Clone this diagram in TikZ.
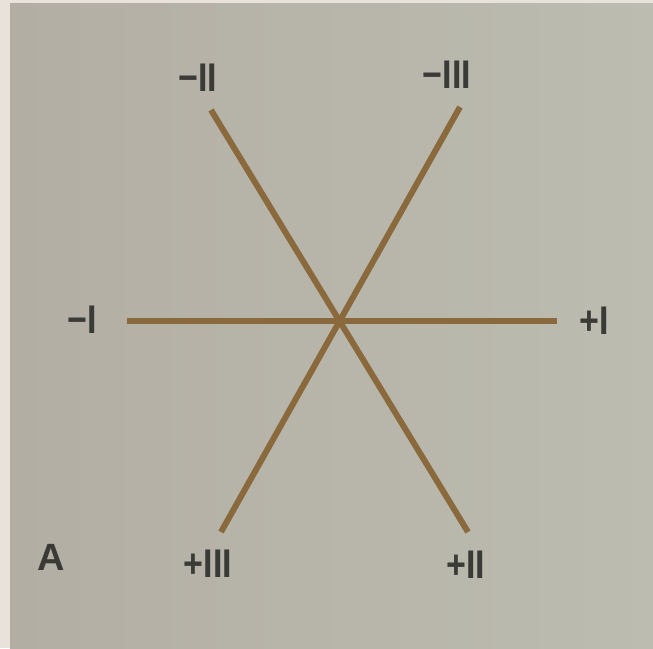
\documentclass[tikz,border=0pt]{standalone}
\usepackage{fontspec}
\setmainfont{Liberation Sans}
\newfontfamily\labfont[FakeStretch=0.85]{Liberation Sans}
\definecolor{border}{HTML}{E9E2DA}
\definecolor{pageL}{HTML}{B3AEA4}
\definecolor{pageR}{HTML}{BCBCB0}
\definecolor{axis}{HTML}{8A6A3C}
\definecolor{ink}{HTML}{3A3A37}
\tikzset{
  axisline/.style={draw=axis, line width=6pt, line cap=butt},
  lead/.style={text=ink, inner sep=0pt, font=\labfont\fontsize{40}{42}\selectfont\bfseries}
}
\begin{document}
\begin{tikzpicture}[x=1pt,y=-1pt]
\useasboundingbox (0,0) rectangle (653,648);
\fill[border] (0,0) rectangle (653,648);
\shade[left color=pageL, right color=pageR] (10,3) rectangle (653,648);
% axis end points
\coordinate (O) at (340,321);
\coordinate (mI) at (127,321);
\coordinate (pI) at (557,321);
\coordinate (mII) at (211,110);
\coordinate (pII) at (468,532);
\coordinate (mIII) at (460,107);
\coordinate (pIII) at (221,532);
\draw[axisline] (mI) -- (pI);
\draw[axisline] (mII) -- (pII);
\draw[axisline] (mIII) -- (pIII);
% labels
\node[lead] (lmII) at (198,78) {−II};
\node[lead] (lmIII) at (447,75) {−III};
\node[lead] (lmI) at (82,320) {−I};
\node[lead] (lpI) at (594,321) {+I};
\node[lead] (lpIII) at (208,564) {+III};
\node[lead] (lpII) at (466,565) {+II};
\node[lead, font=\fontsize{38}{40}\selectfont\bfseries] (lA) at (51,557) {A};
\end{tikzpicture}
\end{document}
